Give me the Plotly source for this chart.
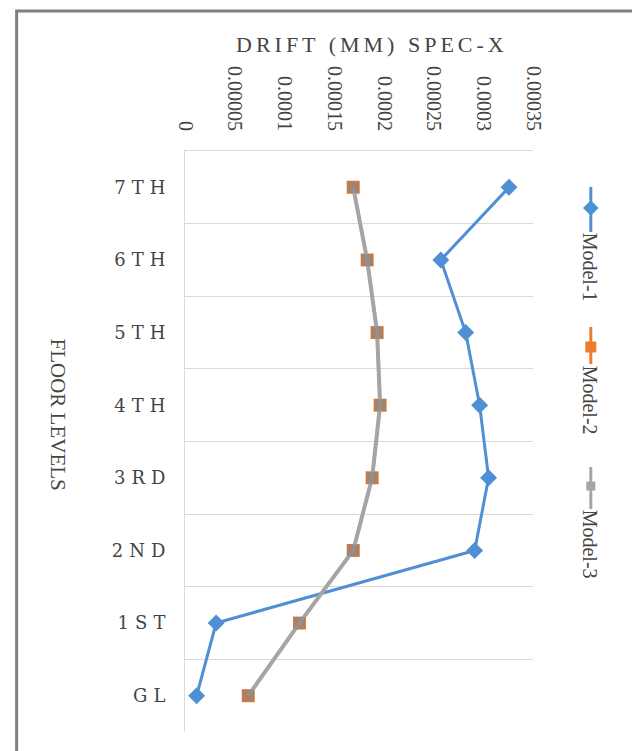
import plotly.graph_objects as go

floors = ["GL", "1ST", "2ND", "3RD", "4TH", "5TH", "6TH", "7TH"]
model1 = [0.0000117, 0.0000313, 0.000291, 0.000305, 0.000296, 0.000282, 0.000257, 0.0003255]
model2 = [0.0000635, 0.000115, 0.000169, 0.000188, 0.000196, 0.000193, 0.000183, 0.000169]
model3 = [0.0000635, 0.000115, 0.000169, 0.000188, 0.000196, 0.000193, 0.000183, 0.000169]
x_tickvals = [0, 0.00005, 0.0001, 0.00015, 0.0002, 0.00025, 0.0003, 0.00035]
x_ticktext = ["0", "0.00005", "0.0001", "0.00015", "0.0002", "0.00025", "0.0003", "0.00035"]
series_names = ["Model-1", "Model-2", "Model-3"]

W, H = 632, 751
L, T, B = 185, 151, 19
PLOT_R = 543
pw = W - L
ph = H - T - B

def px(x):
    return (x - L) / pw

def py(y):
    return (H - B - y) / ph

SERIF = "Liberation Serif, Times New Roman, serif"
WIDE_SERIF = "DejaVu Serif, serif"
BLUE = "#4f8fd3"
ORANGE = "#ed7d31"
GRAY = "#a5a5a5"
TXT = "#444444"

fig = go.Figure()
fig.add_trace(go.Scatter(x=model1, y=floors, mode="lines+markers", name=series_names[0],
                         line=dict(color=BLUE, width=3),
                         marker=dict(symbol="diamond", size=13, color=BLUE),
                         showlegend=False))
fig.add_trace(go.Scatter(x=model2, y=floors, mode="lines+markers", name=series_names[1],
                         line=dict(color=ORANGE, width=3),
                         marker=dict(symbol="square", size=13, color=ORANGE),
                         showlegend=False))
fig.add_trace(go.Scatter(x=model3, y=floors, mode="lines+markers", name=series_names[2],
                         line=dict(color=GRAY, width=4),
                         marker=dict(symbol="square", size=12, color="rgba(130,130,130,0.6)"),
                         showlegend=False))

# legend keys (vertical, rotated text) drawn on a small helper axis
leg_x = 0.5
leg_items = [
    (series_names[0], BLUE, "diamond", 12, 187, 232, 208, 231),
    (series_names[1], ORANGE, "square", 11, 327, 364, 347, 364),
    (series_names[2], GRAY, "square", 9, 467, 509, 486, 508),
]
for name, col, sym, sz, y0, y1, ym, ytext in leg_items:
    fig.add_trace(go.Scatter(x=[leg_x, leg_x], y=[y0, y1], mode="lines", xaxis="x2", yaxis="y2",
                             line=dict(color=col, width=3), showlegend=False, hoverinfo="skip"))
    fig.add_trace(go.Scatter(x=[leg_x], y=[ym], mode="markers", xaxis="x2", yaxis="y2",
                             marker=dict(symbol=sym, size=sz, color=col), showlegend=False, hoverinfo="skip"))
    fig.add_annotation(x=leg_x, y=ytext, xref="x2", yref="y2", text=name, textangle=90,
                       showarrow=False, xanchor="center", yanchor="top",
                       font=dict(family=SERIF, size=20, color=TXT))

main_dom = (PLOT_R - L) / pw
fig.update_layout(
    width=W, height=H,
    margin=dict(l=L, r=0, t=T, b=B),
    paper_bgcolor="white", plot_bgcolor="white",
    xaxis=dict(domain=[0, main_dom], range=[0, 0.00035], side="top",
               tickvals=x_tickvals, ticktext=x_ticktext, tickangle=90,
               tickfont=dict(family=SERIF, size=20, color=TXT),
               showgrid=False, zeroline=False, showline=True, linecolor="#d9d9d9", linewidth=1,
               ticks="", ticklabelstandoff=12),
    yaxis=dict(type="category", categoryorder="array", categoryarray=floors,
               range=[-0.5, 7.5], tickson="boundaries",
               tickvals=floors,
               ticktext=['<span style="letter-spacing:6px">%s</span>' % f for f in floors],
               tickfont=dict(family=WIDE_SERIF, size=18, color=TXT),
               showgrid=True, gridcolor="#d9d9d9", gridwidth=1.3,
               showline=True, linecolor="#d9d9d9", linewidth=1,
               zeroline=False, ticks="", ticklabelstandoff=9),
    xaxis2=dict(domain=[px(592), px(612)], range=[0, 1], anchor="y2", visible=False, fixedrange=True),
    yaxis2=dict(domain=[0, 1], range=[H - B, T], anchor="x2", visible=False, fixedrange=True),
    showlegend=False,
)

fig.add_annotation(x=px(377), y=py(44), xref="paper", yref="paper",
                   text='<span style="letter-spacing:4px">DRIFT (MM) SPEC-X</span>',
                   showarrow=False, xanchor="center", yanchor="middle",
                   font=dict(family=SERIF, size=22, color=TXT))
fig.add_annotation(x=px(54), y=py(414), xref="paper", yref="paper",
                   text="FLOOR LEVELS", textangle=90, showarrow=False,
                   xanchor="center", yanchor="middle",
                   font=dict(family=SERIF, size=21, color=TXT))

fig.add_shape(type="rect", xref="paper", yref="paper",
              x0=px(12), x1=px(660), y0=py(780), y1=py(11),
              line=dict(color="#7f7f7f", width=3), fillcolor="rgba(0,0,0,0)", layer="above")

fig.write_html("out.html")
